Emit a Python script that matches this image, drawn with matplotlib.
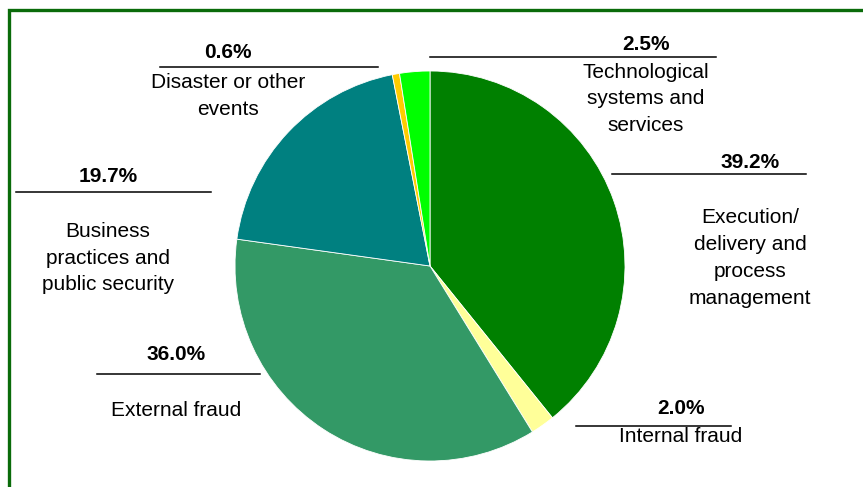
import matplotlib.pyplot as plt
from matplotlib.patches import Rectangle

plt.rcParams['font.family'] = ['Liberation Sans', 'DejaVu Sans']

# data, clockwise from 12 o'clock
categories = ["Execution/\ndelivery and\nprocess\nmanagement",
              "Internal fraud",
              "External fraud",
              "Business\npractices and\npublic security",
              "Disaster or other\nevents",
              "Technological\nsystems and\nservices"]
shares = [39.2, 2.0, 36.0, 19.7, 0.6, 2.5]
colors = ["#008000", "#FFFF99", "#339966", "#008080", "#FFCC00", "#00FF00"]

W, H = 863, 487

# label layout in pixel coords: (center x, pct y, line x0, line x1, line y, name y)
layout = [
    (750, 163, 612, 806, 174, 258),
    (681, 409, 576, 731, 426, 437),
    (176, 355, 97, 260, 374, 410),
    (108, 176, 16, 211, 192, 258),
    (228, 52, 160, 378, 67, 96),
    (646, 45, 430, 716, 57, 99),
]


def py(y):
    # pixel row -> data y
    return H - y


fig = plt.figure(figsize=(W / 100, H / 100), dpi=100)
ax = fig.add_axes([0, 0, 1, 1])
ax.axis('off')

ax.pie(shares, colors=colors, startangle=90, counterclock=False,
       center=(430, py(266)), radius=195,
       wedgeprops=dict(edgecolor='white', linewidth=0.6))
ax.set_aspect('equal')
ax.set_xlim(0, W)
ax.set_ylim(0, H)

for name, val, (cx, ty, x0, x1, ly, ny) in zip(categories, shares, layout):
    ax.text(cx, py(ty), f"{val:.1f}%", ha='center', va='center',
            fontsize=15, fontweight='bold')
    ax.plot([x0, x1], [py(ly), py(ly)], color='black', linewidth=1.1)
    ax.text(cx, py(ny), name, ha='center', va='center', fontsize=15,
            linespacing=1.52)

# green frame, running off the right and bottom edges
frame = Rectangle((9, py(540)), 900, 530, fill=False,
                  edgecolor='#0a6b0a', linewidth=2.4, clip_on=False)
ax.add_patch(frame)

fig.savefig("out.png", dpi=100)
